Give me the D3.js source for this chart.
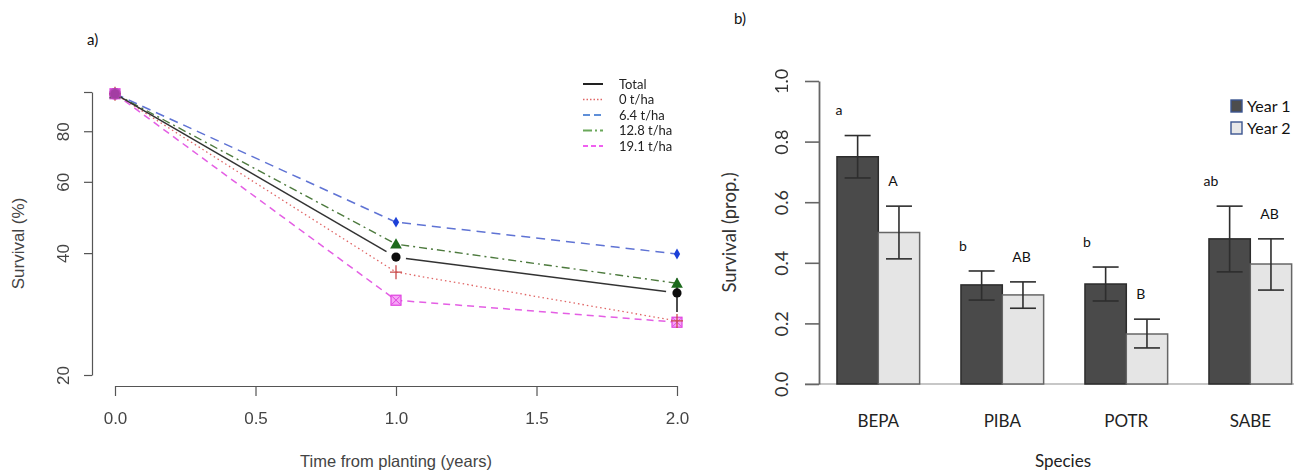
<!DOCTYPE html>
<html>
<head>
<meta charset="utf-8">
<script src="https://cdn.jsdelivr.net/npm/d3@7"></script>
<style>
  html, body { margin: 0; padding: 0; background: #fff; }
  svg { display: block; }
</style>
</head>
<body>
<svg id="fig" width="1298" height="473"></svg>
<script>
// ---- Panel a: survival over time by biochar rate ----
const years = [0, 1, 2];
const seriesNames = ["Total", "0 t/ha", "6.4 t/ha", "12.8 t/ha", "19.1 t/ha"];
const survTotal = [99, 39.1, 31.9];
const surv0 = [99, 35.9, 27.2];
const surv64 = [99, 47.7, 39.8];
const surv128 = [99, 42.1, 33.7];
const surv191 = [99, 30.6, 27.0];
const totalLower = [99, 39.1, 28.6];
const totalUpper = [99, 39.1, 34.6];
const survTicks = [20, 40, 60, 80, 100];
const survTickLabels = ["20", "40", "60", "80", ""];
const timeTicks = [0, 0.5, 1, 1.5, 2];

// ---- Panel b: survival by species ----
const species = ["BEPA", "PIBA", "POTR", "SABE"];
const yearNames = ["Year 1", "Year 2"];
const year1 = [0.75, 0.327, 0.33, 0.479];
const year1Lo = [0.68, 0.277, 0.274, 0.370];
const year1Hi = [0.82, 0.373, 0.386, 0.587];
const year2 = [0.50, 0.294, 0.165, 0.396];
const year2Lo = [0.413, 0.25, 0.119, 0.31];
const year2Hi = [0.587, 0.337, 0.214, 0.479];
const letters1 = ["a", "b", "b", "ab"];
const letters2 = ["A", "AB", "B", "AB"];
const propTicks = [0, 0.2, 0.4, 0.6, 0.8, 1.0];

const svg = d3.select("#fig");
const rFont = "'Liberation Sans', Arial, sans-serif";
const cFont = "Lato, 'Open Sans', sans-serif";

// soft rendering for panel a
const defs = svg.append("defs");
defs.append("filter").attr("id", "soft")
  .append("feGaussianBlur").attr("stdDeviation", 0.45);

// ================= Panel a =================
const gA = svg.append("g");
const x = d3.scaleLinear().domain([0, 2]).range([115, 677]);
const y = d3.scaleLog().domain([20, 100]).range([375, 92]);
const axisCol = "#555";

gA.append("text").attr("x", 87).attr("y", 45).attr("font-family", cFont)
  .attr("font-size", 15).attr("fill", "#111").text("a)");

const plotA = gA.append("g").attr("filter", "url(#soft)");

// y axis (R style, offset from plot region)
const yAx = plotA.append("g").attr("transform", "translate(92,0)")
  .call(d3.axisLeft(y).tickValues(survTicks).tickFormat((d, i) => survTickLabels[i])
    .tickSize(8).tickSizeOuter(0));
yAx.select(".domain").attr("stroke", axisCol).attr("stroke-width", 1.2);
yAx.selectAll(".tick line").attr("stroke", axisCol).attr("stroke-width", 1.2);
yAx.selectAll(".tick text").attr("font-family", rFont).attr("font-size", 17).attr("fill", "#444")
  .attr("text-anchor", "middle").attr("dy", "0.35em")
  .attr("transform", "translate(-29,0) rotate(-90)").attr("x", 0).attr("y", 0);

// x axis
const xAx = plotA.append("g").attr("transform", "translate(0,386)")
  .call(d3.axisBottom(x).tickValues(timeTicks).tickFormat(d3.format(".1f"))
    .tickSize(10).tickSizeOuter(0));
xAx.select(".domain").attr("stroke", axisCol).attr("stroke-width", 1.2);
xAx.selectAll(".tick line").attr("stroke", axisCol).attr("stroke-width", 1.2);
xAx.selectAll(".tick text").attr("font-family", rFont).attr("font-size", 17)
  .attr("fill", "#444").attr("y", 26);

// axis titles
gA.append("text").attr("x", x(1)).attr("y", 467).attr("text-anchor", "middle")
  .attr("font-family", rFont).attr("font-size", 16.5).attr("fill", "#444")
  .text("Time from planting (years)");
gA.append("text").attr("transform", `translate(24,${(y(20) + y(100)) / 2 + 10}) rotate(-90)`)
  .attr("text-anchor", "middle").attr("font-family", rFont).attr("font-size", 17)
  .attr("fill", "#444").text("Survival (%)");

const seriesDefs = [
  { vals: surv0, color: "#e06666", dash: "1.5,3", width: 1.3 },
  { vals: surv64, color: "#5f73d4", dash: "9,6", width: 1.5 },
  { vals: surv128, color: "#4d7a3e", dash: "8,4,2,4", width: 1.4 },
  { vals: surv191, color: "#e45ee4", dash: "7,5", width: 1.5 },
];
const line = d3.line().x((d, i) => x(years[i])).y(d => y(d));
seriesDefs.forEach(s => {
  plotA.append("path").datum(s.vals).attr("d", line).attr("fill", "none")
    .attr("stroke", s.color).attr("stroke-width", s.width).attr("stroke-dasharray", s.dash);
});

// Total: solid line with gaps around the points
for (let i = 0; i < years.length - 1; i++) {
  const x0 = x(years[i]), y0 = y(survTotal[i]);
  const x1 = x(years[i + 1]), y1 = y(survTotal[i + 1]);
  const len = Math.hypot(x1 - x0, y1 - y0);
  const ux = (x1 - x0) / len, uy = (y1 - y0) / len;
  const gap0 = i === 0 ? 4 : 10, gap1 = 11;
  plotA.append("line")
    .attr("x1", x0 + ux * gap0).attr("y1", y0 + uy * gap0)
    .attr("x2", x1 - ux * gap1).attr("y2", y1 - uy * gap1)
    .attr("stroke", "#333").attr("stroke-width", 1.5);
}
// error bar on total
years.forEach((t, i) => {
  if (totalUpper[i] !== totalLower[i]) {
    plotA.append("line").attr("x1", x(t)).attr("x2", x(t))
      .attr("y1", y(totalUpper[i])).attr("y2", y(totalLower[i]))
      .attr("stroke", "#222").attr("stroke-width", 1.6);
  }
});

// markers
const mk = plotA.append("g");
years.forEach((t, i) => {
  const px = x(t);
  // 6.4 t/ha: diamond
  mk.append("path").attr("d", d3.symbol(d3.symbolDiamond, 34)())
    .attr("transform", `translate(${px},${y(surv64[i])})`).attr("fill", "#1f40d8");
  // 19.1 t/ha: square with cross
  const sy = y(surv191[i]);
  mk.append("rect").attr("x", px - 5).attr("y", sy - 5).attr("width", 10).attr("height", 10)
    .attr("fill", "#f6a6f6").attr("stroke", "#e040e0").attr("stroke-width", 1.2);
  mk.append("path").attr("d", `M${px - 4},${sy - 4}L${px + 4},${sy + 4}M${px - 4},${sy + 4}L${px + 4},${sy - 4}`)
    .attr("stroke", "#e040e0").attr("stroke-width", 1);
  // 0 t/ha: plus
  const ry = y(surv0[i]);
  mk.append("path").attr("d", `M${px - 6},${ry}L${px + 6},${ry}M${px},${ry - 7}L${px},${ry + 7}`)
    .attr("stroke", "#c94a4a").attr("stroke-width", 1.3);
  // 12.8 t/ha: triangle
  mk.append("path").attr("d", d3.symbol(d3.symbolTriangle, 60)())
    .attr("transform", `translate(${px},${y(surv128[i]) + 1})`).attr("fill", "#1e6a1e");
  // Total: filled circle
  mk.append("circle").attr("cx", px).attr("cy", y(survTotal[i])).attr("r", 4.6).attr("fill", "#111");
});
// overlapping start point blends into one purple mark
mk.append("circle").attr("cx", x(0)).attr("cy", y(survTotal[0])).attr("r", 6)
  .attr("fill", "#b441b4").attr("opacity", 0.9);

// legend (a)
const legA = gA.append("g").attr("transform", "translate(583,84)");
const legStyles = [
  { color: "#222", dash: null, width: 2 },
  { color: "#e06666", dash: "1.5,2", width: 1.5 },
  { color: "#5f8fd8", dash: "7,4", width: 1.8 },
  { color: "#6aa85a", dash: "9,3,2,3", width: 1.8 },
  { color: "#f060f0", dash: "5,3", width: 1.8 },
];
seriesNames.forEach((n, i) => {
  const gy = i * 15.5;
  legA.append("line").attr("x1", 0).attr("x2", 20).attr("y1", gy).attr("y2", gy)
    .attr("stroke", legStyles[i].color).attr("stroke-width", legStyles[i].width)
    .attr("stroke-dasharray", legStyles[i].dash);
  legA.append("text").attr("x", 36).attr("y", gy).attr("dy", "0.35em")
    .attr("font-family", cFont).attr("font-size", 13).attr("fill", "#222").text(n);
});

// ================= Panel b =================
const gB = svg.append("g");
gB.append("text").attr("x", 734).attr("y", 24).attr("font-family", cFont)
  .attr("font-size", 15).attr("fill", "#111").text("b)");

const yb = d3.scaleLinear().domain([0, 1]).range([384, 81]);
const xb = d3.scaleBand().domain(species).range([816.3, 1312.3])
  .paddingInner(1 / 3).paddingOuter(1 / 6);
const xs = d3.scaleBand().domain(yearNames).range([0, xb.bandwidth()]);

// baseline
gB.append("line").attr("x1", 805).attr("x2", 1294).attr("y1", yb(0)).attr("y2", yb(0))
  .attr("stroke", "#b5b5b5").attr("stroke-width", 1.6);

const yAxB = gB.append("g").attr("transform", "translate(819,0)")
  .call(d3.axisLeft(yb).tickValues(propTicks).tickFormat(d3.format(".1f"))
    .tickSize(14).tickSizeOuter(0));
yAxB.select(".domain").attr("stroke", "#666").attr("stroke-width", 1.8);
yAxB.selectAll(".tick line").attr("stroke", "#666").attr("stroke-width", 1.6);
yAxB.selectAll(".tick text").attr("font-family", cFont).attr("font-size", 18)
  .attr("fill", "#333").attr("text-anchor", "middle")
  .attr("transform", "translate(-37,0) rotate(-90)").attr("x", 0).attr("y", 0).attr("dy", "0.35em");

gB.append("text").attr("transform", `translate(736,${yb(0.5)}) rotate(-90)`)
  .attr("text-anchor", "middle").attr("font-family", cFont).attr("font-size", 18.5)
  .attr("fill", "#333").text("Survival (prop.)");

// category labels and title
species.forEach(s => {
  gB.append("text").attr("x", xb(s) + xb.bandwidth() / 2).attr("y", 427)
    .attr("text-anchor", "middle").attr("font-family", cFont).attr("font-size", 17)
    .attr("fill", "#222").text(s);
});
gB.append("text").attr("x", 1063).attr("y", 467).attr("text-anchor", "middle")
  .attr("font-family", cFont).attr("font-size", 17).attr("fill", "#222").text("Species");

const barSets = [
  { vals: year1, lo: year1Lo, hi: year1Hi, letters: letters1, fill: "#4a4a4a", stroke: "#2c2c2c" },
  { vals: year2, lo: year2Lo, hi: year2Hi, letters: letters2, fill: "#e5e5e5", stroke: "#666" },
];
barSets.forEach((set, k) => {
  const yn = yearNames[k];
  species.forEach((s, i) => {
    const bx = xb(s) + xs(yn), bw = xs.bandwidth();
    gB.append("rect").attr("x", bx).attr("y", yb(set.vals[i]))
      .attr("width", bw).attr("height", yb(0) - yb(set.vals[i]))
      .attr("fill", set.fill).attr("stroke", set.stroke).attr("stroke-width", 1.5);
  });
});
barSets.forEach((set, k) => {
  const yn = yearNames[k];
  species.forEach((s, i) => {
    const bx = xb(s) + xs(yn), bw = xs.bandwidth();
    const cx = bx + bw / 2;
    const eb = gB.append("g").attr("stroke", "#2e2e2e").attr("stroke-width", 1.6);
    eb.append("line").attr("x1", cx).attr("x2", cx).attr("y1", yb(set.hi[i])).attr("y2", yb(set.lo[i]));
    eb.append("line").attr("x1", cx - 13).attr("x2", cx + 13).attr("y1", yb(set.hi[i])).attr("y2", yb(set.hi[i]));
    eb.append("line").attr("x1", cx - 13).attr("x2", cx + 13).attr("y1", yb(set.lo[i])).attr("y2", yb(set.lo[i]));
    // significance letters
    const lx = k === 0 ? bx + 2 : bx + 10;
    gB.append("text").attr("x", lx).attr("y", yb(set.hi[i]) - 25).attr("dy", "0.35em")
      .attr("text-anchor", k === 0 ? "middle" : "start")
      .attr("font-family", cFont).attr("font-size", 14).attr("fill", "#111").text(set.letters[i]);
  });
});

// legend (b)
const legB = gB.append("g").attr("transform", "translate(1231,100)");
const legFills = ["#4d4d4d", "#e8e8e8"];
yearNames.forEach((n, i) => {
  const gy = i * 22;
  legB.append("rect").attr("x", 0).attr("y", gy).attr("width", 11).attr("height", 12)
    .attr("fill", legFills[i]).attr("stroke", "#3b5590").attr("stroke-width", 1.4);
  legB.append("text").attr("x", 16).attr("y", gy + 6).attr("dy", "0.36em")
    .attr("font-family", cFont).attr("font-size", 16).attr("fill", "#111").text(n);
});
</script>
</body>
</html>
